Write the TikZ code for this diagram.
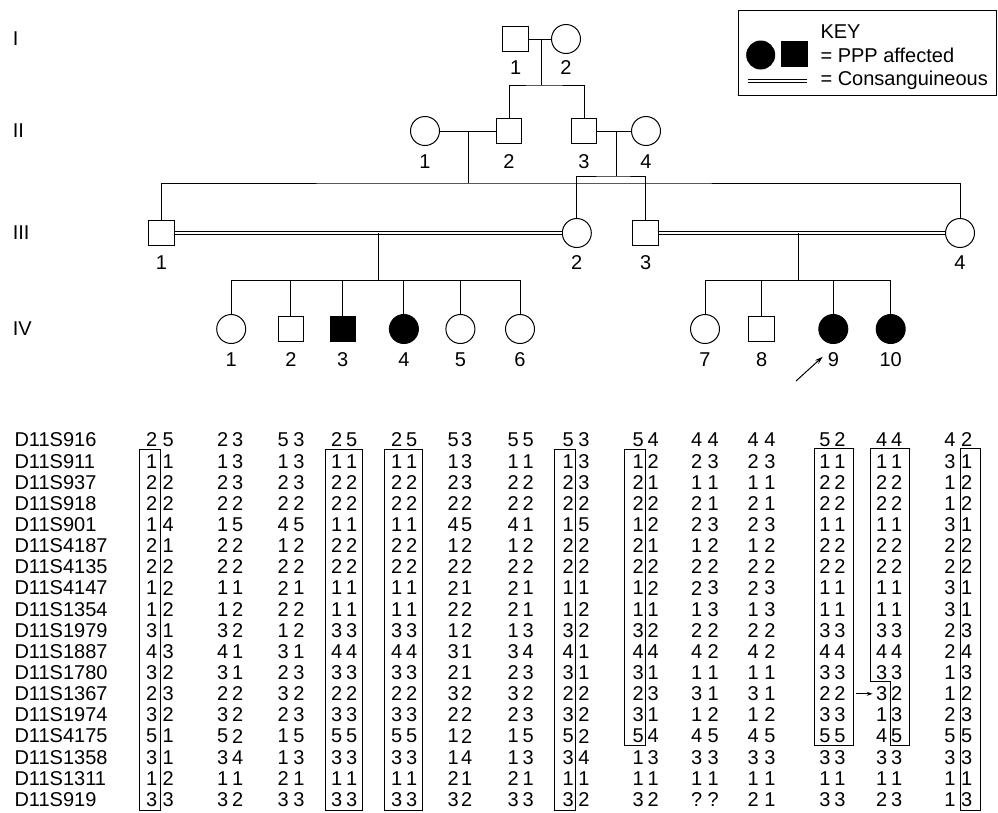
\documentclass[tikz,border=0pt]{standalone}
\usepackage{fontspec}
\setmainfont{Liberation Sans}
\usetikzlibrary{arrows.meta, positioning}

\tikzset{
  male/.style={draw, rectangle, minimum size=25.5pt, inner sep=0pt},
  female/.style={draw, circle, minimum size=29pt, inner sep=0pt},
  affected/.style={fill=black},
  num/.style={inner sep=0pt, on grid},
  consang/.style={double, double distance=2pt},
  allele/.style={inner sep=0pt},
  marker/.style={inner sep=0pt, anchor=west},
}

% x positions of the alleles, two per person
\def\allelex{{151.7,168.3,222.7,237.7,283.3,299,336.7,351.7,396.7,411.7,453.3,466.7,513.3,528.3,568.3,584,638.3,653.3,696.7,713.3,753.3,770,825,840,881.7,896.7,950,966.7}}

\begin{document}
\begin{tikzpicture}[x=1pt, y=-1pt, line width=1pt,
    every node/.style={font=\fontsize{20}{22}\selectfont}]
    \useasboundingbox (0,0) rectangle (998,812);

    % generations
    \node[anchor=west] (gI) at (9,39) {I};
    \node[anchor=west] (gII) at (9,131) {II};
    \node[anchor=west] (gIII) at (9,233) {III};
    \node[anchor=west] (gIV) at (9,329) {IV};

    % generation I
    \node[male] (I1) at (515.7,39) {};
    \node[female] (I2) at (566,39) {};
    \node[num, below=29pt of I1] (I1n) {1};
    \node[num, below=29pt of I2] (I2n) {2};
    \draw (I1) -- (I2);
    \coordinate (mI) at (541.7,39);
    \coordinate (sI) at (541.7,85);

    % generation II
    \node[female] (II1) at (425,131) {};
    \node[male] (II2) at (509,131) {};
    \node[male] (II3) at (584,131) {};
    \node[female] (II4) at (646,131) {};
    \foreach \k in {1,...,4}
        \node[num, below=31pt of II\k] (II\k n) {\k};
    \draw (mI) -- (sI);
    \draw (II2) |- (sI) -| (II3);
    \draw (II1) -- (II2);
    \draw (II3) -- (II4);
    \coordinate (mII12) at (468,131);
    \coordinate (sII12) at (468,183);
    \coordinate (mII34) at (616,131);
    \coordinate (sII34) at (616,176);

    % generation III
    \node[male] (III1) at (161.4,233) {};
    \node[female] (III2) at (576.8,233) {};
    \node[male] (III3) at (645.7,233) {};
    \node[female] (III4) at (960,233) {};
    \foreach \k in {1,...,4}
        \node[num, below=30pt of III\k] (III\k n) {\k};
    \draw (mII12) -- (sII12);
    \draw (III1) |- (sII12) -| (III4);
    \draw (mII34) -- (sII34);
    \draw (III2) |- (sII34) -| (III3);
    \draw[consang] (III1) -- (III2);
    \draw[consang] (III3) -- (III4);
    \coordinate (mIII12) at (378,233);
    \coordinate (sIII12) at (378,280.7);
    \coordinate (mIII34) at (798.3,233);
    \coordinate (sIII34) at (798.3,280.7);

    % generation IV
    \node[female] (IV1) at (231.2,329) {};
    \node[male] (IV2) at (290.9,329) {};
    \node[male, affected] (IV3) at (342.8,329) {};
    \node[female, affected] (IV4) at (403.9,329) {};
    \node[female] (IV5) at (460.4,329) {};
    \node[female] (IV6) at (520,329) {};
    \node[female] (IV7) at (705,329) {};
    \node[male] (IV8) at (761.7,329) {};
    \node[female, affected] (IV9) at (833.3,329) {};
    \node[female, affected] (IV10) at (890.7,329) {};
    \foreach \k in {1,...,10}
        \node[num, below=31pt of IV\k] (IV\k n) {\k};
    \draw (mIII12) -- (sIII12);
    \draw (IV1) |- (sIII12) -| (IV6);
    \foreach \k in {2,...,5}
        \draw (IV\k) -- (IV\k |- sIII12);
    \draw (mIII34) -- (sIII34);
    \draw (IV7) |- (sIII34) -| (IV10);
    \foreach \k in {8,9}
        \draw (IV\k) -- (IV\k |- sIII34);

    % proband
    \coordinate (pbs) at (796,381);
    \coordinate (pbe) at (822.7,356.7);
    \draw[-{Stealth[length=8pt, width=5pt]}] (pbs) -- (pbe);

    % key
    \node[draw, minimum width=258pt, minimum height=85pt, anchor=north west] (key) at (738,10) {};
    \node[anchor=west] (keyt) at (816.7,32) {KEY};
    \node[female, affected, minimum size=28pt] (kf) at (760.7,55) {};
    \node[male, affected] (km) at (794.5,54) {};
    \node[anchor=west] (kaff) at (816.7,55) {= PPP affected};
    \coordinate (kcs) at (748,80.6);
    \coordinate (kce) at (807,80.6);
    \draw[consang] (kcs) -- (kce);
    \node[anchor=west] (kcon) at (816.7,80) {= Consanguineous};

    % haplotypes
    \foreach \mk/\gt [count=\r from 0] in {
        D11S916/{2,5,2,3,5,3,2,5,2,5,5,3,5,5,5,3,5,4,4,4,4,4,5,2,4,4,4,2},
        D11S911/{1,1,1,3,1,3,1,1,1,1,1,3,1,1,1,3,1,2,2,3,2,3,1,1,1,1,3,1},
        D11S937/{2,2,2,3,2,3,2,2,2,2,2,3,2,2,2,3,2,1,1,1,1,1,2,2,2,2,1,2},
        D11S918/{2,2,2,2,2,2,2,2,2,2,2,2,2,2,2,2,2,2,2,1,2,1,2,2,2,2,1,2},
        D11S901/{1,4,1,5,4,5,1,1,1,1,4,5,4,1,1,5,1,2,2,3,2,3,1,1,1,1,3,1},
        D11S4187/{2,1,2,2,1,2,2,2,2,2,1,2,1,2,2,2,2,1,1,2,1,2,2,2,2,2,2,2},
        D11S4135/{2,2,2,2,2,2,2,2,2,2,2,2,2,2,2,2,2,2,2,2,2,2,2,2,2,2,2,2},
        D11S4147/{1,2,1,1,2,1,1,1,1,1,2,1,2,1,1,1,1,2,2,3,2,3,1,1,1,1,3,1},
        D11S1354/{1,2,1,2,2,2,1,1,1,1,2,2,2,1,1,2,1,1,1,3,1,3,1,1,1,1,3,1},
        D11S1979/{3,1,3,2,1,2,3,3,3,3,1,2,1,3,3,2,3,2,2,2,2,2,3,3,3,3,2,3},
        D11S1887/{4,3,4,1,3,1,4,4,4,4,3,1,3,4,4,1,4,4,4,2,4,2,4,4,4,4,2,4},
        D11S1780/{3,2,3,1,2,3,3,3,3,3,2,1,2,3,3,1,3,1,1,1,1,1,3,3,3,3,1,3},
        D11S1367/{2,3,2,2,3,2,2,2,2,2,3,2,3,2,2,2,2,3,3,1,3,1,2,2,3,2,1,2},
        D11S1974/{3,2,3,2,2,3,3,3,3,3,2,2,2,3,3,2,3,1,1,2,1,2,3,3,1,3,2,3},
        D11S4175/{5,1,5,2,1,5,5,5,5,5,1,2,1,5,5,2,5,4,4,5,4,5,5,5,4,5,5,5},
        D11S1358/{3,1,3,4,1,3,3,3,3,3,1,4,1,3,3,4,1,3,3,3,3,3,3,3,3,3,3,3},
        D11S1311/{1,2,1,1,2,1,1,1,1,1,2,1,2,1,1,1,1,1,1,1,1,1,1,1,1,1,1,1},
        D11S919/{3,3,3,2,3,3,3,3,3,3,3,2,3,3,3,2,3,2,?,?,2,1,3,3,2,3,1,3}} {
        \node[marker] (m\r) at (14,{440+21.15*\r}) {\mk};
        \foreach \a [count=\c from 0] in \gt {
            \pgfmathsetmacro\xx{\allelex[\c]}
            \node[allele] (a\r-\c) at (\xx,{440+21.15*\r}) {\a};
        }
    }

    % shared haplotype boxes
    \draw (139.3,449.3) rectangle (160.3,810.7);
    \draw (325,449.3) rectangle (362.7,810.7);
    \draw (384.3,449.3) rectangle (422.7,810.7);
    \draw (554.3,449.3) rectangle (575.7,810.7);
    \draw (624.3,449.3) rectangle (645.7,745.7);
    \draw (814.3,448.3) rectangle (853.3,745.7);
    \draw (870.7,448.3) -- (870.7,681.7) -- (890,681.7) -- (890,745.7)
        -- (909.3,745.7) -- (909.3,448.3) -- cycle;
    \draw (960,448.3) rectangle (980.7,810.7);
    \draw[-{Stealth[length=6pt, width=4pt]}] ([xshift=10pt]a12-23.east) -- ([xshift=-3pt]a12-24.west);
\end{tikzpicture}
\end{document}
